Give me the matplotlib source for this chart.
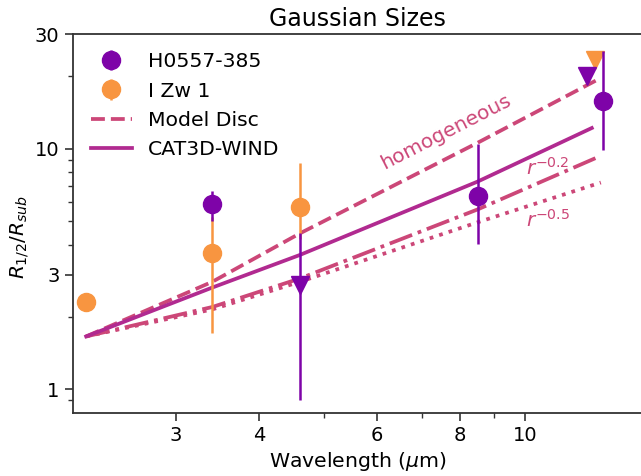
import numpy as np
import matplotlib
matplotlib.use("Agg")
import matplotlib.pyplot as plt
from matplotlib.ticker import FixedLocator, NullFormatter, FixedFormatter

# ---- observed sizes -------------------------------------------------------
h_wl = [3.4, 8.5, 13.1]
h_size = [5.9, 6.39, 15.85]
h_lo = [5.0, 4.02, 9.84]
h_hi = [6.66, 10.5, 25.6]

h_lim_wl = [4.6, 12.4]
h_lim_size = [2.71, 20.1]
h_lim_lo = [0.905, 20.1]
h_lim_hi = [4.48, 20.1]

z_wl = [2.2, 3.4, 4.6]
z_size = [2.30, 3.70, 5.71]
z_lo = [2.30, 1.71, 4.2]
z_hi = [2.30, 5.2, 8.77]

z_lim_wl = [12.75]
z_lim_size = [23.3]

# ---- models ---------------------------------------------------------------
disc_wl = [2.2, 3.4, 4.6, 8.5, 13.0]
disc_homog = [1.66, 2.8, 4.45, 10.6, 19.7]
disc_r02 = [1.66, 2.20, 2.89, 5.6, 9.35]
disc_r05 = [1.66, 2.15, 2.80, 4.95, 7.24]

wind_wl = [2.2, 3.4, 4.6, 8.5, 12.6]
wind_size = [1.66, 2.65, 3.62, 7.31, 12.2]

x_ticks = [3, 4, 6, 8, 10]
x_minor = [5, 7, 9]
y_ticks = [1, 3, 10, 30]

PURPLE = "#7e03a8"
ORANGE = "#f89540"
PINK = "#cc4778"
MAGENTA = "#b12a90"

plt.rcParams["font.family"] = "DejaVu Sans"

fig = plt.figure(figsize=(6.41, 4.76), dpi=100)
ax = fig.add_axes([72.7 / 641, (476 - 412.7) / 476, 569.6 / 641, 378.7 / 476])
ax.set_xscale("log")
ax.set_yscale("log")


def yerr(vals, lo, hi):
    v = np.array(vals)
    return [v - np.array(lo), np.array(hi) - v]


# model curves
l_disc, = ax.plot(disc_wl, disc_homog, ls="--", color=PINK, lw=2.7, zorder=2)
ax.plot(disc_wl, disc_r02, ls="-.", color=PINK, lw=2.7, zorder=2)
ax.plot(disc_wl, disc_r05, ls=":", color=PINK, lw=2.7, zorder=2)
l_wind, = ax.plot(wind_wl, wind_size, ls="-", color=MAGENTA, lw=2.7, zorder=2)

# I Zw 1
e_z = ax.errorbar(z_wl, z_size, yerr=yerr(z_size, z_lo, z_hi), fmt="o",
                  color=ORANGE, ms=13, elinewidth=1.8, capsize=0, zorder=3)
ax.errorbar(z_lim_wl, z_lim_size, fmt="v", color=ORANGE, ms=13, zorder=3)

# H0557-385
e_h = ax.errorbar(h_wl, h_size, yerr=yerr(h_size, h_lo, h_hi), fmt="o",
                  color=PURPLE, ms=13, elinewidth=1.8, capsize=0, zorder=4)
ax.errorbar(h_lim_wl, h_lim_size, yerr=yerr(h_lim_size, h_lim_lo, h_lim_hi),
            fmt="v", color=PURPLE, ms=13, elinewidth=1.8, capsize=0, zorder=4)

# model annotations
ax.text(7.62, 11.7, "homogeneous", color=PINK, fontsize=14.5, rotation=27,
        ha="center", va="center")
ax.text(10.05, 7.79, r"$r^{-0.2}$", color=PINK, fontsize=14.5,
        ha="left", va="baseline")
ax.text(10.05, 4.74, r"$r^{-0.5}$", color=PINK, fontsize=14.5,
        ha="left", va="baseline")

ax.set_xlim(2.1, 15)
ax.set_ylim(0.8, 30)

ax.xaxis.set_major_locator(FixedLocator(x_ticks))
ax.xaxis.set_major_formatter(FixedFormatter([str(t) for t in x_ticks]))
ax.xaxis.set_minor_locator(FixedLocator(x_minor))
ax.xaxis.set_minor_formatter(NullFormatter())
ax.yaxis.set_major_locator(FixedLocator(y_ticks))
ax.yaxis.set_major_formatter(FixedFormatter([str(t) for t in y_ticks]))
ax.yaxis.set_minor_locator(FixedLocator([0.9, 2, 4, 5, 6, 7, 8, 9, 20]))
ax.yaxis.set_minor_formatter(NullFormatter())

for s in ax.spines.values():
    s.set_color("#333333")
    s.set_linewidth(1.3)
ax.tick_params(which="major", length=6, width=1.2, color="#333333",
               labelsize=14)
ax.tick_params(which="minor", length=3.5, width=1.0, color="#333333")

ax.set_xlabel(r"Wavelength ($\mu$m)", fontsize=14.7)
ax.set_ylabel(r"$R_{1/2}/R_{sub}$", fontsize=14.5)
ax.yaxis.set_label_coords(-0.074, 0.464)
ax.set_title("Gaussian Sizes", fontsize=17)

ax.legend([e_h, e_z, l_disc, l_wind],
          ["H0557-385", "I Zw 1", "Model Disc", "CAT3D-WIND"],
          loc="upper left", frameon=False, fontsize=14.7)

fig.savefig("out.png", dpi=100)
